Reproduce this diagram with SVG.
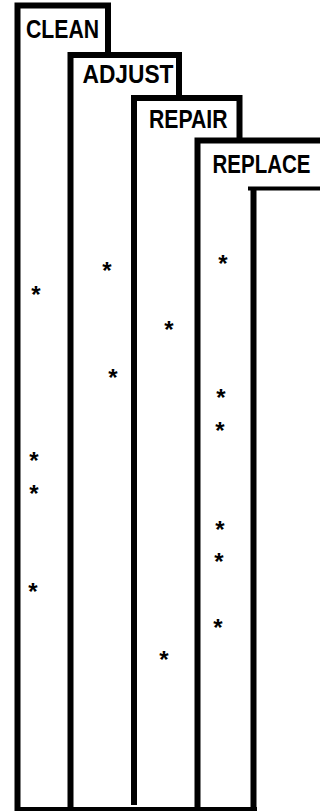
<svg xmlns="http://www.w3.org/2000/svg" width="320" height="811" viewBox="0 0 320 811">
<style>
.ln{fill:none;stroke:#000;stroke-width:6;stroke-linejoin:miter;stroke-linecap:butt}
.th{stroke-width:4}
.lb{font-family:"Liberation Sans",Arial,sans-serif;font-weight:bold;font-size:25px;fill:#000}
.st{font-family:"Liberation Sans",Arial,sans-serif;font-weight:bold;font-size:24px;fill:#000;text-anchor:middle}
</style>
<rect width="320" height="811" fill="#fff"/>
<g id="connectors">
<path class="ln th" d="M15,809 H257"/>
</g>
<g id="clean">
<path class="ln" d="M17.5,811 V5.5 H108 V55"/>
<text class="lb" x="26" y="38" textLength="73" lengthAdjust="spacingAndGlyphs">CLEAN</text>
<text class="st" x="36" y="302.5">*</text>
<text class="st" x="34" y="468.5">*</text>
<text class="st" x="34" y="501.5">*</text>
<text class="st" x="33" y="599.5">*</text>
</g>
<g id="adjust">
<path class="ln" d="M70.5,811 V55 H179 V98"/>
<text class="lb" x="82.5" y="83.3" textLength="91" lengthAdjust="spacingAndGlyphs">ADJUST</text>
<text class="st" x="107" y="278.5">*</text>
<text class="st" x="113" y="385.5">*</text>
</g>
<g id="repair">
<path class="ln" d="M134,805 V98 H239.5 V140"/>
<text class="lb" x="149" y="128.3" textLength="78.5" lengthAdjust="spacingAndGlyphs">REPAIR</text>
<text class="st" x="169" y="337.5">*</text>
<text class="st" x="164" y="667.5">*</text>
</g>
<g id="replace">
<path class="ln" d="M197.5,811 V140.5 H320"/>
<text class="lb" transform="translate(212.5,172.7) scale(0.82,1)" x="0" y="0">REPLACE</text>
<text class="st" x="223" y="272">*</text>
<text class="st" x="221" y="405.5">*</text>
<text class="st" x="220" y="438.5">*</text>
<text class="st" x="220" y="537.5">*</text>
<text class="st" x="219" y="569.5">*</text>
<text class="st" x="218" y="635.5">*</text>
</g>
<g id="inner">
<path class="ln th" d="M248,188.5 H320"/>
<path class="ln" d="M253.5,187 V811"/>
</g>
</svg>
